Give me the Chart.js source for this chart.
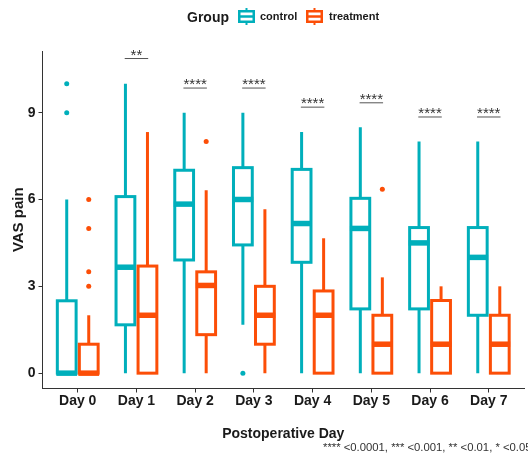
<!DOCTYPE html>
<html>
<head>
<meta charset="utf-8">
<script src="https://cdn.jsdelivr.net/npm/chart.js@4.4.0/dist/chart.umd.min.js"></script>
<style>
  html, body { margin: 0; padding: 0; background: #fff; }
  #wrap { position: relative; width: 528px; height: 459px; overflow: hidden; font-family: 'Liberation Sans', Arial, sans-serif; }
  #chart { position: absolute; left: 0; top: 0; }
  .lg { position: absolute; white-space: nowrap; line-height: 1; color: #1a1a1a; }
  .key { position: absolute; }
</style>
</head>
<body>
<div id="wrap">
  <canvas id="chart" width="528" height="459"></canvas>
  <span class="lg" style="left:187px;top:10px;font-size:14px;font-weight:bold;">Group</span>
  <svg class="key" style="left:238px;top:8px" width="17" height="17">
    <line x1="8.5" y1="0" x2="8.5" y2="17" stroke="#00AFBB" stroke-width="2"/>
    <rect x="1.25" y="3.25" width="14.5" height="10.5" fill="#fff" stroke="#00AFBB" stroke-width="2.5"/>
    <line x1="1" y1="8.5" x2="16" y2="8.5" stroke="#00AFBB" stroke-width="2.5"/>
  </svg>
  <span class="lg" style="left:260px;top:11px;font-size:11px;font-weight:bold;">control</span>
  <svg class="key" style="left:306px;top:8px" width="17" height="17">
    <line x1="8.5" y1="0" x2="8.5" y2="17" stroke="#FC4E07" stroke-width="2"/>
    <rect x="1.25" y="3.25" width="14.5" height="10.5" fill="#fff" stroke="#FC4E07" stroke-width="2.5"/>
    <line x1="1" y1="8.5" x2="16" y2="8.5" stroke="#FC4E07" stroke-width="2.5"/>
  </svg>
  <span class="lg" style="left:329px;top:11px;font-size:11px;font-weight:bold;">treatment</span>
  <span class="lg" style="left:323px;top:442px;font-size:11.3px;color:#333;">**** &lt;0.0001, *** &lt;0.001, ** &lt;0.01, * &lt;0.05</span>
</div>
<script>
const days = ['Day 0', 'Day 1', 'Day 2', 'Day 3', 'Day 4', 'Day 5', 'Day 6', 'Day 7'];
const yTicks = [0, 3, 6, 9];

// box statistics
const controlMin    = [0, 0, 0, 1.67, 0, 0, 0, 0];
const controlQ1     = [0, 1.67, 3.91, 4.43, 3.83, 2.22, 2.22, 2.0];
const controlMedian = [0, 3.66, 5.84, 6.0, 5.17, 5.0, 4.5, 4.0];
const controlQ3     = [2.5, 6.1, 7.01, 7.1, 7.04, 6.04, 5.03, 5.03];
const controlMax    = [6, 10, 9, 9, 8.33, 8.5, 8, 8];

const treatmentMin    = [0, 0, 0, 0, 0, 0, 0, 0];
const treatmentQ1     = [0, 0, 1.33, 1, 0, 0, 0, 0];
const treatmentMedian = [0, 2, 3.03, 2, 2, 1, 1, 1];
const treatmentQ3     = [1, 3.7, 3.5, 3, 2.84, 2, 2.51, 2];
const treatmentMax    = [2, 8.33, 6.32, 5.66, 4.66, 3.31, 3, 3];

const controlOutlierDay   = [0, 0, 3];
const controlOutlierValue = [10, 9, 0];
const treatmentOutlierDay   = [0, 0, 0, 0, 2, 5];
const treatmentOutlierValue = [6, 5, 3.5, 3, 8, 6.35];

const sigLabels = ['', '**', '****', '****', '****', '****', '****', '****'];
const sigY      = [null, 10.87, 9.85, 9.85, 9.19, 9.34, 8.85, 8.85];

const colors = { control: '#00AFBB', treatment: '#FC4E07' };
const dodge = 0.1875;
const boxHalf = 0.16;

const groups = [
    { color: colors.control, offset: -dodge, min: controlMin, q1: controlQ1, med: controlMedian, q3: controlQ3, max: controlMax },
    { color: colors.treatment, offset: dodge, min: treatmentMin, q1: treatmentQ1, med: treatmentMedian, q3: treatmentQ3, max: treatmentMax }
];

const boxPlugin = {
    id: 'boxes',
    beforeDatasetsDraw(chart) {
        const { ctx, scales: { x, y } } = chart;
        ctx.save();
        groups.forEach(g => {
            days.forEach((d, i) => {
                const cx = x.getPixelForValue(i + g.offset);
                const left = x.getPixelForValue(i + g.offset - boxHalf);
                const right = x.getPixelForValue(i + g.offset + boxHalf);
                const top = y.getPixelForValue(g.q3[i]);
                const bottom = y.getPixelForValue(g.q1[i]);
                ctx.strokeStyle = g.color;
                ctx.lineCap = 'butt';
                // whiskers
                ctx.lineWidth = 3;
                ctx.beginPath();
                ctx.moveTo(cx, y.getPixelForValue(g.max[i]));
                ctx.lineTo(cx, top);
                ctx.moveTo(cx, bottom);
                ctx.lineTo(cx, y.getPixelForValue(g.min[i]));
                ctx.stroke();
                // box
                ctx.fillStyle = '#fff';
                ctx.fillRect(left, top, right - left, bottom - top);
                ctx.strokeRect(left, top, right - left, bottom - top);
                // median
                ctx.lineWidth = 5.5;
                ctx.beginPath();
                const my = y.getPixelForValue(g.med[i]);
                ctx.moveTo(left - 1, my);
                ctx.lineTo(right + 1, my);
                ctx.stroke();
            });
        });
        ctx.restore();
    },
    afterDatasetsDraw(chart) {
        const { ctx, scales: { x, y } } = chart;
        ctx.save();
        ctx.font = "15px 'Liberation Sans', Arial, sans-serif";
        ctx.textAlign = 'center';
        ctx.textBaseline = 'alphabetic';
        days.forEach((d, i) => {
            if (!sigLabels[i]) return;
            const ly = y.getPixelForValue(sigY[i]);
            ctx.strokeStyle = '#555';
            ctx.lineWidth = 1;
            ctx.beginPath();
            ctx.moveTo(x.getPixelForValue(i - 0.2), ly);
            ctx.lineTo(x.getPixelForValue(i + 0.2), ly);
            ctx.stroke();
            ctx.fillStyle = '#333';
            ctx.fillText(sigLabels[i], x.getPixelForValue(i), ly + 1);
        });
        ctx.restore();
    }
};

new Chart(document.getElementById('chart'), {
    type: 'scatter',
    data: {
        datasets: [
            {
                label: 'control',
                data: controlOutlierDay.map((d, k) => ({ x: d - dodge, y: controlOutlierValue[k] })),
                backgroundColor: colors.control,
                borderWidth: 0,
                pointRadius: 2.5
            },
            {
                label: 'treatment',
                data: treatmentOutlierDay.map((d, k) => ({ x: d + dodge, y: treatmentOutlierValue[k] })),
                backgroundColor: colors.treatment,
                borderWidth: 0,
                pointRadius: 2.5
            }
        ]
    },
    options: {
        responsive: false,
        animation: false,
        layout: { padding: { top: 51, right: 0, left: 0, bottom: 0 } },
        plugins: {
            legend: { display: false },
            tooltip: { enabled: false }
        },
        scales: {
            x: {
                type: 'linear',
                min: -0.6,
                max: 7.6,
                afterBuildTicks: s => { s.ticks = days.map((d, i) => ({ value: i })); },
                afterFit: s => { s.height = 70.5; },
                ticks: {
                    callback: (v, idx) => days[idx],
                    font: { family: "'Liberation Sans', Arial, sans-serif", size: 14, weight: 'bold' },
                    color: '#1a1a1a',
                    padding: 0,
                    autoSkip: false,
                    maxRotation: 0
                },
                grid: { drawOnChartArea: false, drawTicks: true, tickLength: 4, tickColor: '#333' },
                border: { color: '#333', width: 1 },
                title: {
                    display: true,
                    text: 'Postoperative Day',
                    font: { family: "'Liberation Sans', Arial, sans-serif", size: 14, weight: 'bold' },
                    color: '#1a1a1a',
                    padding: { top: 0, bottom: 16.6 }
                }
            },
            y: {
                min: -0.53,
                max: 11.13,
                afterBuildTicks: s => { s.ticks = yTicks.map(v => ({ value: v })); },
                afterFit: s => { s.width = 42.5; },
                ticks: {
                    callback: v => v,
                    font: { family: "'Liberation Sans', Arial, sans-serif", size: 14, weight: 'bold' },
                    color: '#1a1a1a',
                    padding: 3
                },
                grid: { drawOnChartArea: false, drawTicks: true, tickLength: 4, tickColor: '#333' },
                border: { color: '#333', width: 1 },
                title: {
                    display: true,
                    text: 'VAS pain',
                    font: { family: "'Liberation Sans', Arial, sans-serif", size: 15, weight: 'bold' },
                    color: '#1a1a1a',
                    padding: { top: 10, bottom: 0 }
                }
            }
        }
    },
    plugins: [boxPlugin]
});
</script>
</body>
</html>
